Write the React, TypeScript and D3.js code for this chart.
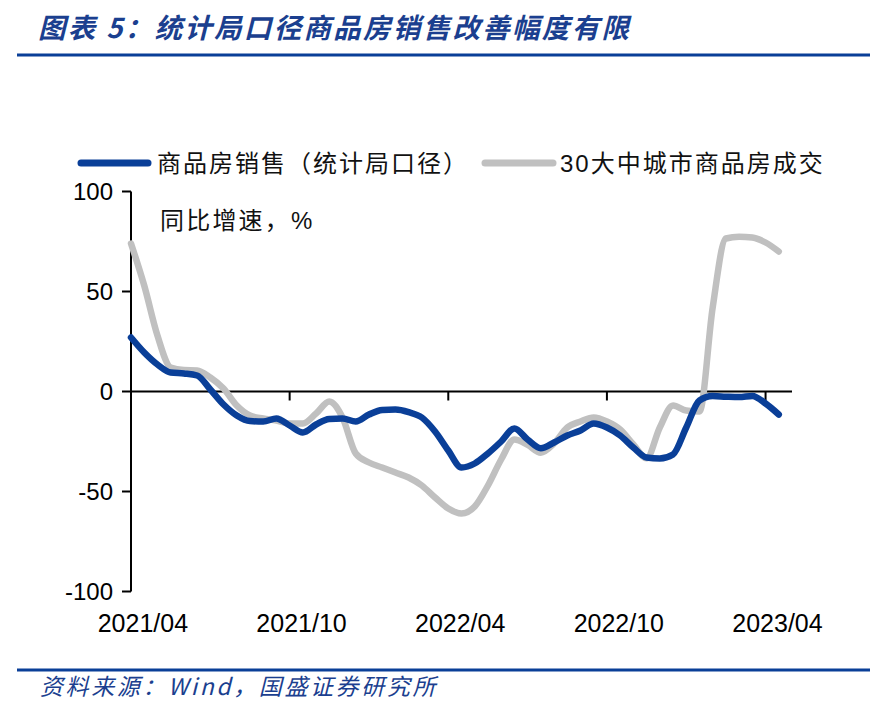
import React from 'react';
import * as d3 from 'd3';

// ---- data (half-month steps starting 2021/04) ----
const stepMonths = 0.5;
const salesNBS = [
  27, 19.5, 13.5, 9.5, 9, 8, 1, -6.5, -12, -14.8,
  -15, -13.5, -17, -20.5, -16.5, -13.7, -13.5, -15, -11.5, -9.2,
  -9, -10.3, -13, -20, -29.5, -38, -36, -31, -25, -18.5,
  -24, -28.4, -25.5, -22, -19.5, -16, -18, -22, -28, -33,
  -33.5, -31.5, -18, -4.5, -2.3, -2.6, -2.8, -2.2, -6, -11.5,
];
const sales30City = [
  74, 53, 28, 12, 10.7, 10.5, 7, 1.5, -7, -12,
  -13.5, -14.5, -16, -16, -11, -5, -13, -31, -35.5, -38,
  -40.5, -43, -47, -53, -58.5, -61, -57.5, -47, -34, -24,
  -26.7, -30.6, -26, -18, -15, -13, -15, -19, -26.5, -33.4,
  -18, -7, -9.5, -10, 42, 76.5, 77.4, 77, 74.5, 70,
];
const xLabels = ['2021/04', '2021/10', '2022/04', '2022/10', '2023/04'];
const xLabelMonths = [0, 6, 12, 18, 24];
const xTickMonths = [6, 12, 18, 24];
const totalMonths = 25;
const yTicks = [100, 50, 0, -50, -100];
const seriesNames = ['商品房销售（统计局口径）', '30大中城市商品房成交'];
const title = '图表 5：统计局口径商品房销售改善幅度有限';
const unitLabel = '同比增速，%';
const source = '资料来源：Wind，国盛证券研究所';

const BLUE = '#0a3f98';
const GRAY = '#c0c0c0';
const TITLE_BLUE = '#1b3f8f';
const FONT = '"Liberation Sans", "Noto Sans CJK SC", sans-serif';
const CJK = '"Noto Sans CJK SC", "Liberation Sans", sans-serif';

export default function App() {
  const W = 887, H = 707;
  const x = d3.scaleLinear().domain([0, totalMonths]).range([131, 792]);
  const y = d3.scaleLinear().domain([-100, 100]).range([591.5, 191.5]);

  const line = d3
    .line<number>()
    .x((_, i) => x(i * stepMonths))
    .y((d) => y(d))
    .curve(d3.curveMonotoneX);

  return (
    <svg width={W} height={H} style={{ position: 'absolute', left: 0, top: 0, background: '#fff' }}>
      {/* title */}
      <text x={38} y={38} fontFamily={CJK} fontSize={27.5} fontWeight={700} fontStyle="italic" letterSpacing={2.3} fill={TITLE_BLUE}>
        {title}
      </text>
      <line x1={17} x2={870} y1={55} y2={55} stroke={BLUE} strokeWidth={3} />

      {/* legend */}
      <line x1={81} x2={148} y1={163} y2={163} stroke={BLUE} strokeWidth={7} strokeLinecap="round" />
      <text x={157} y={172} fontFamily={FONT} fontSize={24} letterSpacing={2} fill="#111">
        {seriesNames[0]}
      </text>
      <line x1={485} x2={553} y1={163} y2={163} stroke={GRAY} strokeWidth={7} strokeLinecap="round" />
      <text x={560} y={172} fontFamily={FONT} fontSize={24} letterSpacing={2} fill="#111">
        {seriesNames[1]}
      </text>

      {/* unit */}
      <text x={160} y={229} fontFamily={FONT} fontSize={24} letterSpacing={2.2} fill="#111">
        {unitLabel}
      </text>

      {/* y axis */}
      <line x1={x(0)} x2={x(0)} y1={y(100)} y2={y(-100)} stroke="#000" strokeWidth={2} />
      {yTicks.map((t) => (
        <g key={t}>
          <line x1={x(0) - 9} x2={x(0)} y1={y(t)} y2={y(t)} stroke="#000" strokeWidth={2} />
          <text x={113} y={y(t)} dy="0.36em" textAnchor="end" fontFamily={FONT} fontSize={24} fill="#000">
            {t}
          </text>
        </g>
      ))}

      {/* zero line / x axis */}
      <line x1={x(0)} x2={x(totalMonths)} y1={y(0)} y2={y(0)} stroke="#000" strokeWidth={2} />
      {xTickMonths.map((m) => (
        <line key={m} x1={x(m)} x2={x(m)} y1={y(0)} y2={y(0) + 9} stroke="#000" strokeWidth={2} />
      ))}
      {xLabels.map((l, i) => (
        <text key={l} x={x(xLabelMonths[i] + 0.45)} y={632} textAnchor="middle" fontFamily={FONT} fontSize={25} fill="#000">
          {l}
        </text>
      ))}

      {/* series */}
      <path d={line(sales30City) || ''} fill="none" stroke={GRAY} strokeWidth={6.5} strokeLinejoin="round" strokeLinecap="round" />
      <path d={line(salesNBS) || ''} fill="none" stroke={BLUE} strokeWidth={6.5} strokeLinejoin="round" strokeLinecap="round" />

      {/* footer */}
      <line x1={17} x2={870} y1={670} y2={670} stroke={BLUE} strokeWidth={3} />
      <text x={40} y={695} fontFamily={CJK} fontSize={23} fontStyle="italic" letterSpacing={2.6} fill={TITLE_BLUE}>
        {source}
      </text>
    </svg>
  );
}
